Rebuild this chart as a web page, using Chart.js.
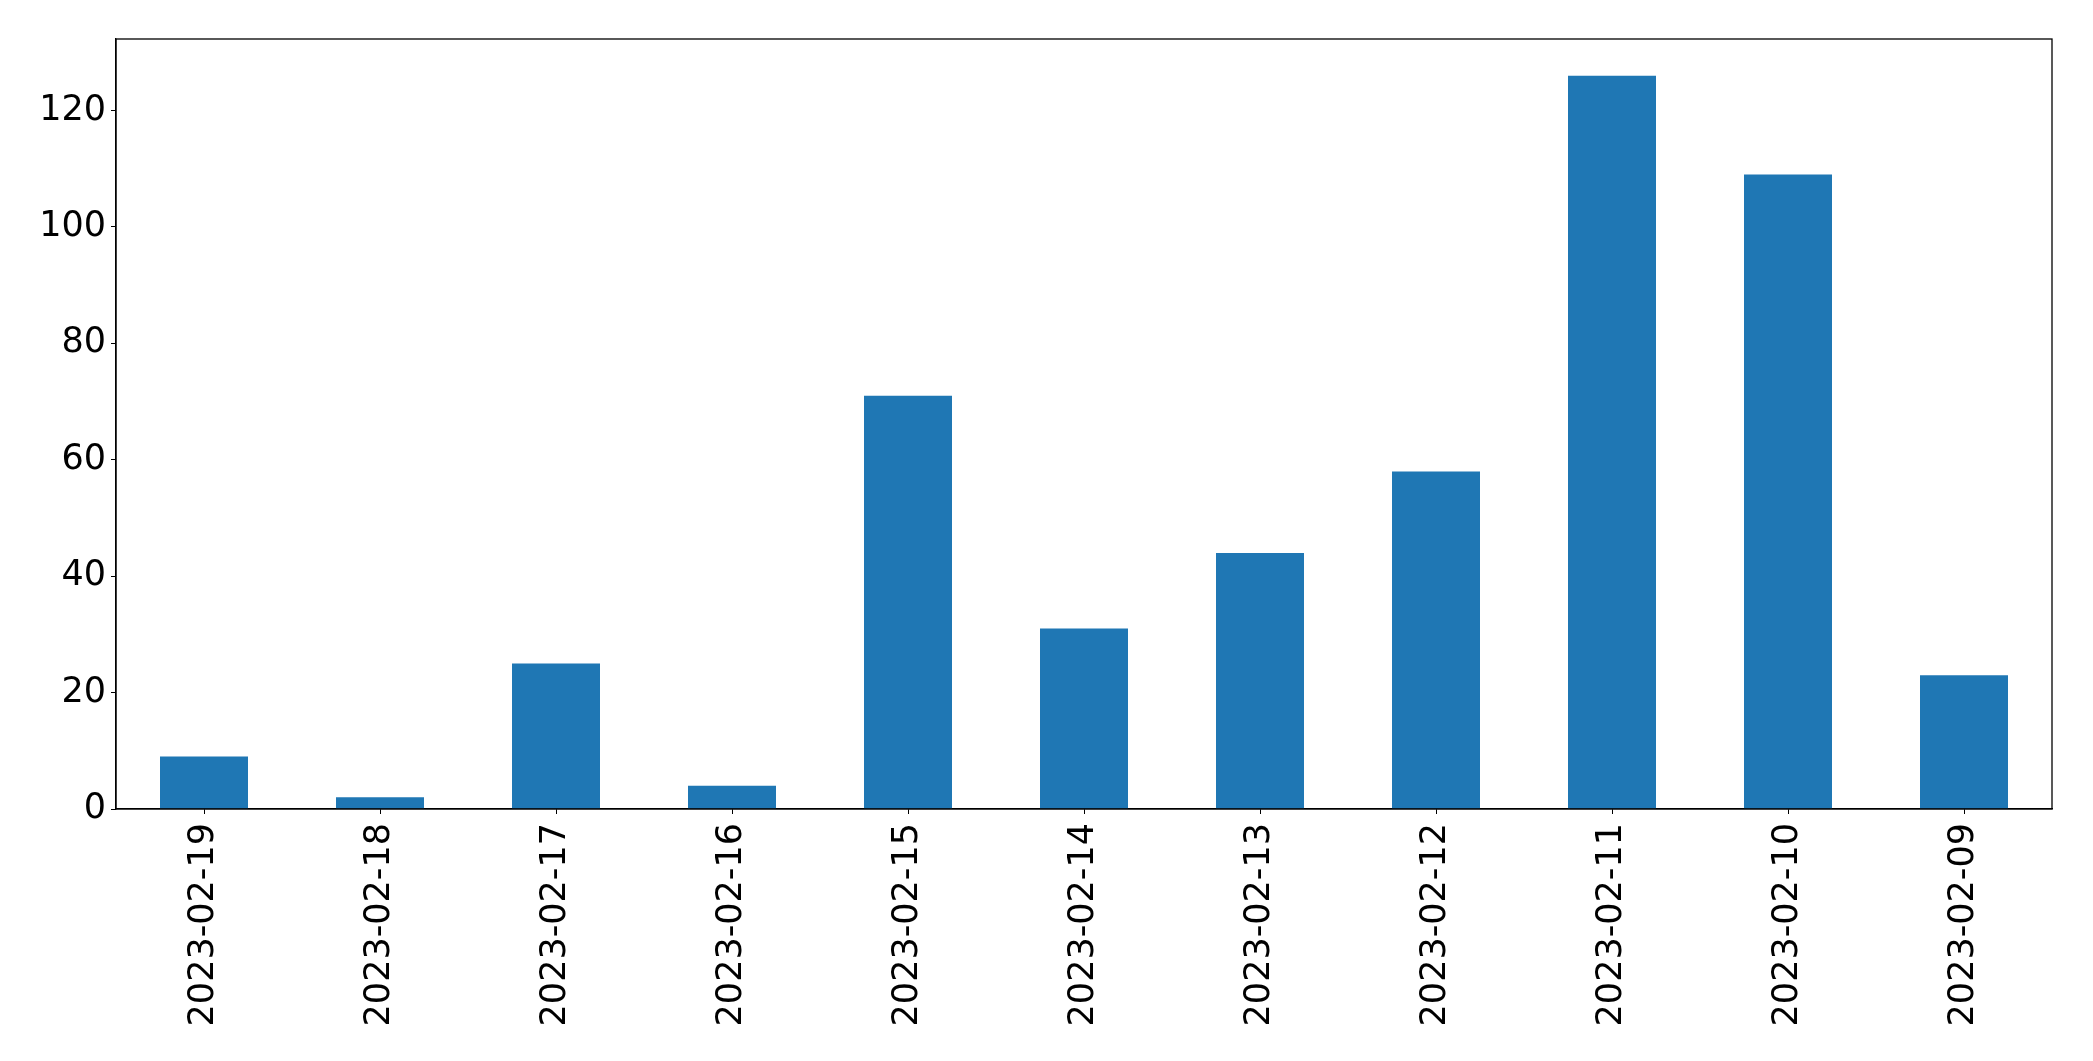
<!DOCTYPE html>
<html>
<head>
<meta charset="utf-8">
<title>Daily counts</title>
<script src="https://cdn.jsdelivr.net/npm/chart.js@4/dist/chart.umd.min.js"></script>
<style>
  html, body { margin: 0; padding: 0; background: #fff; }
  canvas { display: block; }
</style>
</head>
<body>
<canvas id="myChart" width="2093" height="1061"></canvas>
<script>
'use strict';

//globals

//dates, newest first like the source
const days = ['2023-02-19', '2023-02-18', '2023-02-17', '2023-02-16', '2023-02-15', '2023-02-14',
  '2023-02-13', '2023-02-12', '2023-02-11', '2023-02-10', '2023-02-09'];
//count for each day
const counts = [9, 2, 25, 4, 71, 31, 44, 58, 126, 109, 23];
//y ticks shown
const yTicks = [0, 20, 40, 60, 80, 100, 120];

const tickFont = { family: 'DejaVu Sans', size: 35 };

//top and right spines, the axes only give left and bottom
const frame = {
  id: 'frame',
  afterDraw(chart) {
    const { ctx, chartArea: a } = chart;
    ctx.save();
    ctx.strokeStyle = '#000';
    ctx.lineWidth = 1.3;
    ctx.strokeRect(a.left, a.top, a.right - a.left, a.bottom - a.top);
    ctx.restore();
  }
};

const data = {
  labels: days,
  datasets: [{
    data: counts,
    backgroundColor: '#1f77b4',
    borderWidth: 0,
    categoryPercentage: 1,
    barPercentage: 0.5
  }]
};

const config = {
  type: 'bar',
  data: data,
  plugins: [frame],
  options: {
    responsive: false,
    animation: false,
    layout: { padding: { left: 0, top: 39, right: 41, bottom: 0 } },
    plugins: {
      legend: { display: false },
      tooltip: { enabled: false }
    },
    scales: {
      x: {
        //tick marks under the bar centres, not between bars
        grid: { display: true, offset: false, drawOnChartArea: false, drawTicks: true, tickLength: 5, color: '#000' },
        border: { display: true, color: '#000', width: 1.3 },
        ticks: { color: '#000', font: tickFont, minRotation: 90, maxRotation: 90, padding: 9, autoSkip: false },
        afterFit(scale) { scale.height = 252; }
      },
      y: {
        min: 0,
        //5% headroom over the tallest bar
        max: Math.max(...counts) * 1.05,
        grid: { display: true, drawOnChartArea: false, drawTicks: true, tickLength: 5, color: '#000' },
        border: { display: true, color: '#000', width: 1.3 },
        ticks: { color: '#000', font: tickFont, stepSize: 20, padding: 5 },
        afterBuildTicks(scale) {
          scale.ticks = yTicks.map(v => ({ value: v }));
        },
        afterFit(scale) { scale.width = 116; }
      }
    }
  }
};

let myChart = new Chart(document.getElementById('myChart'), config);
</script>
</body>
</html>
